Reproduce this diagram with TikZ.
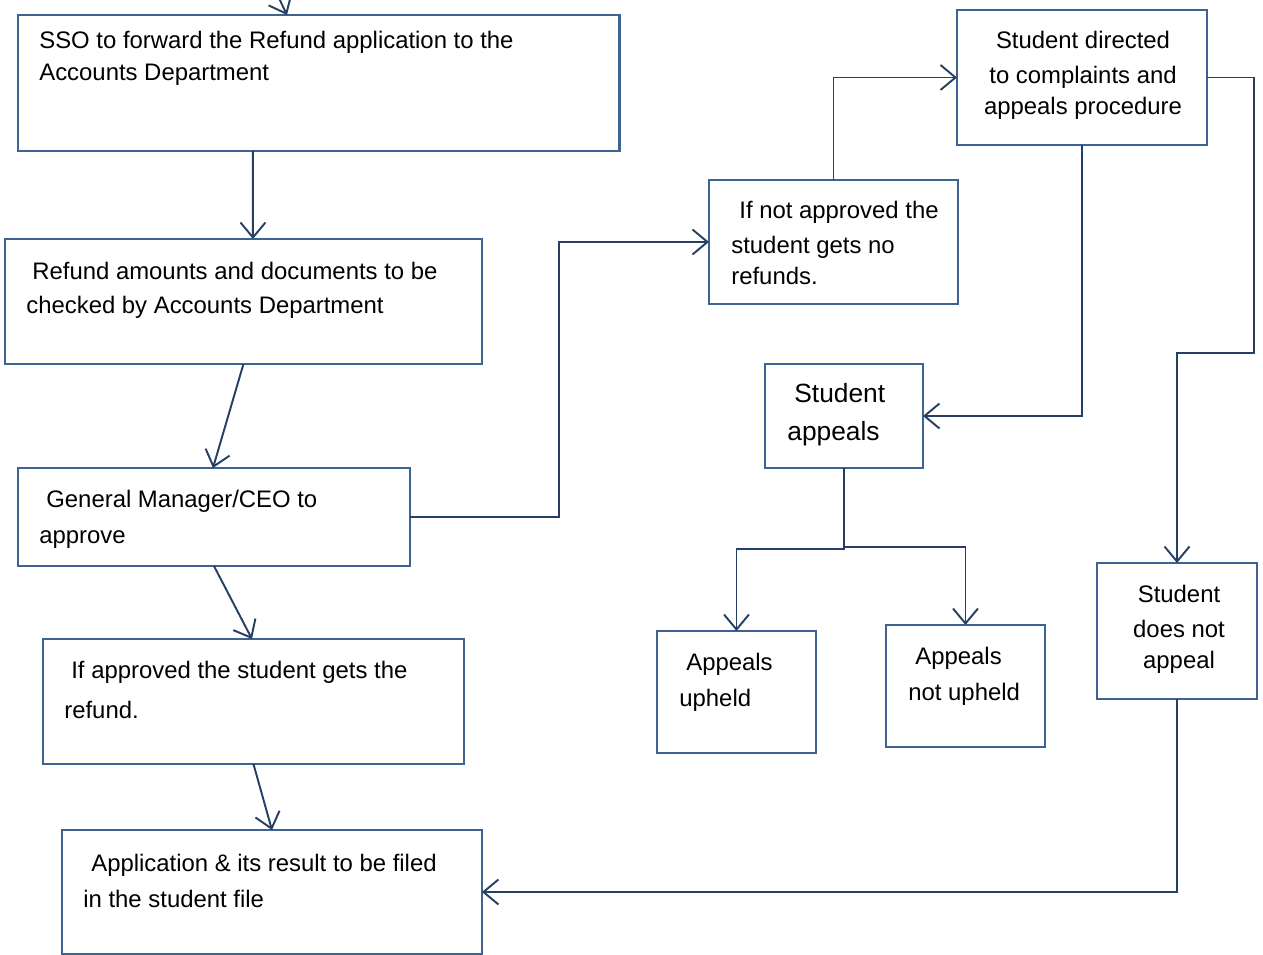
\documentclass[tikz,border=0pt]{standalone}
\usepackage{fontspec}
\setmainfont{Liberation Sans}
\usetikzlibrary{arrows.meta}
\definecolor{cadre}{RGB}{62,98,145}
\definecolor{trait}{RGB}{38,64,100}

\begin{document}
\begin{tikzpicture}[x=0.02cm, y=-0.02cm]
\tikzset{boite/.style={draw=cadre, line width=1.6pt, anchor=north west, inner sep=0pt, outer sep=0pt},
texte/.style={anchor=base west, inner sep=0pt, align=left, font=\fontsize{13.6}{19.6}\selectfont},
textec/.style={texte, anchor=base, align=center},
fleche/.style={draw=trait, line width=1.1pt, -{Straight Barb[length=3mm,width=5mm]}}}
\useasboundingbox (0,0) rectangle (1263,955);
\node[boite, minimum width=12.04cm, minimum height=2.72cm] (E1) at (18,15) {};
\node[boite, minimum width=9.54cm, minimum height=2.5cm] (E2) at (5,239) {};
\node[boite, minimum width=7.84cm, minimum height=1.96cm] (E3) at (18,468) {};
\node[boite, minimum width=8.42cm, minimum height=2.5cm] (E4) at (43,639) {};
\node[boite, minimum width=8.4cm, minimum height=2.48cm] (E5) at (62,830) {};
\node[boite, minimum width=4.98cm, minimum height=2.48cm] (E6) at (709,180) {};
\node[boite, minimum width=5cm, minimum height=2.7cm] (E7) at (957,10) {};
\node[boite, minimum width=3.16cm, minimum height=2.08cm] (E8) at (765,364) {};
\node[boite, minimum width=3.18cm, minimum height=2.44cm] (E9) at (657,631) {};
\node[boite, minimum width=3.18cm, minimum height=2.44cm] (E10) at (886,625) {};
\node[boite, minimum width=3.2cm, minimum height=2.72cm] (E11) at (1097,563) {};
\node[texte] (T1) at (39,81) {SSO to forward the Refund application to the\\[-0.03cm]Accounts Department};
\node[texte] (T2) at (26,314) {\hspace*{0.12cm}Refund amounts and documents to be\\checked by Accounts Department};
\node[texte] (T3) at (39,543) {\hspace*{0.14cm}General Manager/CEO to\\[0.03cm]approve};
\node[texte] (T4) at (64,718) {\hspace*{0.14cm}If approved the student gets the\\[0.11cm]refund.};
\node[texte] (T5) at (83,907) {\hspace*{0.16cm}Application \& its result to be filed\\[0.03cm]in the student file};
\node[texte] (T6) at (731,285) {\hspace*{0.16cm}If not approved the\\student gets no\\[-0.05cm]refunds.};
\node[textec] (T7) at (1083,115) {Student directed\\to complaints and\\[-0.05cm]appeals procedure};
\node[texte, font=\fontsize{15}{22}\selectfont] (T8) at (787,441) {\hspace*{0.14cm}Student\\appeals};
\node[texte] (T9) at (679,706) {\hspace*{0.14cm}Appeals\\[0.03cm]upheld};
\node[texte] (T10) at (908,700) {\hspace*{0.14cm}Appeals\\[0.03cm]not upheld};
\node[textec] (T11) at (1179,668) {Student\\does not\\[-0.07cm]appeal};
\coordinate (D) at (278,-4);
\draw[fleche] (D) -- ([xshift=5.38cm]E1.north west);
\draw[fleche] ([xshift=4.7cm]E1.south west) -- ([xshift=4.96cm]E2.north west);
\draw[fleche] (E2.south) -- ([xshift=3.9cm]E3.north west);
\draw[fleche] (E3.south) -- ([xshift=4.18cm]E4.north west);
\draw[fleche] (E4.south) -- (E5.north);
\draw[fleche] (E3.east) -- ++(2.98cm,0) |- (E6.west);
\draw[fleche] (E6.north) |- (E7.west);
\draw[fleche] (E7.south) |- (E8.east);
\draw[fleche] (E7.east) -- ++(0.94cm,0) -- ++(0,-5.52cm) -| (E11.north);
\draw[fleche] (E8.south) -- ++(0,-1.62cm) -| (E9.north);
\draw[fleche] (E8.south) -- ++(0,-1.58cm) -| (E10.north);
\draw[fleche] (E11.south) |- (E5.east);
\end{tikzpicture}
\end{document}
